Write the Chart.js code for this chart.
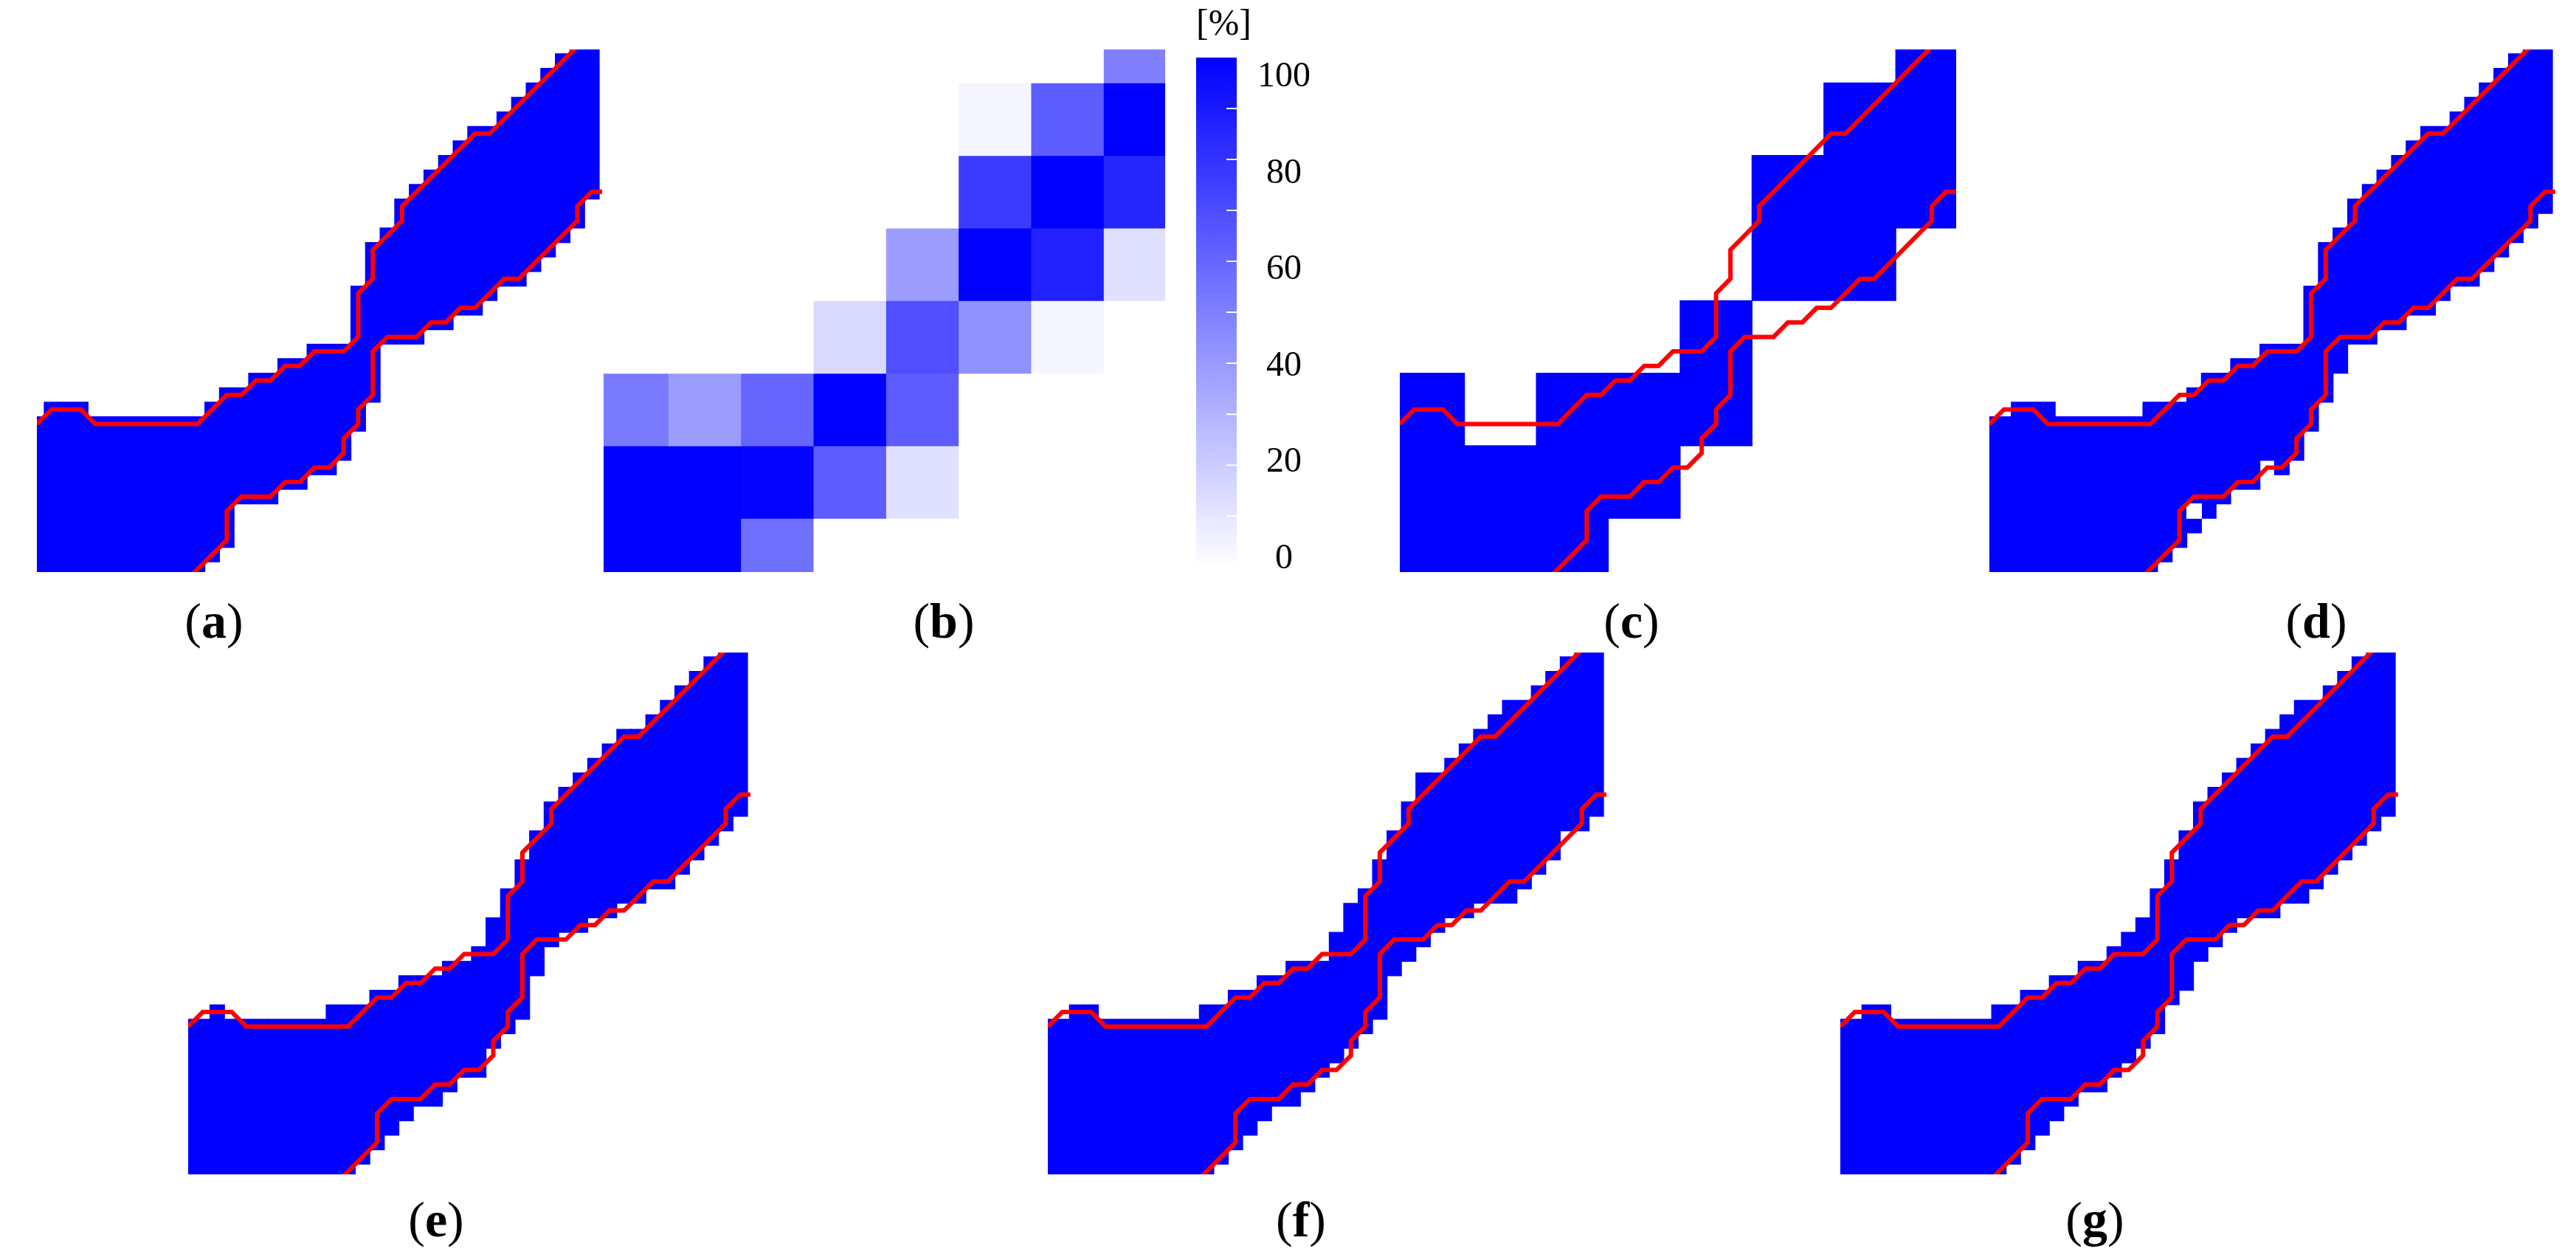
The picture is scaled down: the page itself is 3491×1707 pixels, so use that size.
<!DOCTYPE html>
<html>
<head>
<meta charset="utf-8">
<script src="https://cdn.jsdelivr.net/npm/chart.js@4.4.1/dist/chart.umd.min.js"></script>
<style>
  html, body { margin: 0; padding: 0; background: #fff; }
  #page { position: relative; width: 3491px; height: 1707px; background: #fff; overflow: hidden; }
  canvas { position: absolute; }
  .lbl { position: absolute; font-family: 'Liberation Serif', 'DejaVu Serif', serif; font-size: 68px; line-height: 68px; color: #000; transform: translate(-50%, -50%); white-space: nowrap; }
  .unit { position: absolute; font-family: 'Liberation Serif', 'DejaVu Serif', serif; font-size: 50px; line-height: 50px; color: #000; transform: translate(0, -50%); }
</style>
</head>
<body>
<div id="page"></div>
<script>
// grid units: x = cell column (left -> right), y = cell row (top -> bottom)
const viewX = [0.5, 39.2];
const viewY = [-0.3, 35.7];

// red reference boundaries (same in every mask panel)
const upperLine = [[0.5,25.5],[1.5,24.5],[3.5,24.5],[4.5,25.5],[11.5,25.5],[13.5,23.5],[14.5,23.5],[15.5,22.5],[16.5,22.5],[17.5,21.5],[18.5,21.5],[19.5,20.5],[21.5,20.5],[22.5,19.5],[22.5,16.5],[23.5,15.5],[23.5,13.5],[25.5,11.5],[25.5,10.5],[30.5,5.5],[31.5,5.5],[37.5,-0.5]];
const lowerLine = [[11,36],[13.5,33.5],[13.5,31.5],[14.5,30.5],[16.5,30.5],[17.5,29.5],[18.5,29.5],[19.5,28.5],[20.5,28.5],[21.5,27.5],[21.5,26.5],[22.5,25.5],[22.5,24.5],[23.5,23.5],[23.5,20.5],[24.5,19.5],[26.5,19.5],[27.5,18.5],[28.5,18.5],[29.5,17.5],[30.5,17.5],[32.5,15.5],[33.5,15.5],[37.5,11.5],[37.5,10.5],[38.5,9.5],[39.5,9.5]];

// blue masks: first and last blue row of each column 0..38
const topA = [25,24,24,24,25,25,25,25,25,25,25,25,24,23,23,22,22,21,21,20,20,20,16,13,12,10,9,8,7,6,5,5,4,3,2,1,0,-1,-1];
const botA = [35,35,35,35,35,35,35,35,35,35,35,35,34,33,30,30,30,29,29,28,28,27,25,23,19,19,19,18,18,17,17,16,15,15,14,13,12,11,9];
const topD = [25,25,24,24,24,25,25,25,25,25,25,24,24,24,23,22,22,21,21,20,20,20,16,13,12,10,9,8,7,6,5,5,4,3,2,1,0,-1,-1];
const botD = [35,35,35,35,35,35,35,35,35,35,35,35,34,33,32,31,30,29,29,27,28,27,25,23,21,19,19,18,18,17,17,16,15,15,14,13,12,11,10];
const holesD = [[14,31]];
const topE = [25,25,24,25,25,25,25,25,25,25,24,24,24,23,23,22,22,22,21,21,20,18,16,14,12,10,9,8,7,6,5,5,4,3,2,1,0,-1,-1];
const botE = [35,35,35,35,35,35,35,35,35,35,35,35,34,33,32,31,30,30,29,28,28,26,25,24,21,19,18,18,17,17,16,16,15,15,14,13,12,11,10];
const topF = [25,25,24,24,25,25,25,25,25,25,25,24,24,23,23,22,22,21,21,21,19,17,16,14,12,10,8,8,7,6,5,4,3,3,2,1,0,-1,-1];
const botF = [35,35,35,35,35,35,35,35,35,35,35,35,34,33,32,31,30,30,29,28,27,26,25,24,21,20,19,18,17,17,16,16,16,15,14,13,11,11,10];
const topG = [25,25,24,24,25,25,25,25,25,25,25,24,24,23,23,22,22,21,21,20,19,18,16,14,12,10,9,8,7,6,5,4,3,3,2,1,0,-1,-1];
const botG = [35,35,35,35,35,35,35,35,35,35,35,35,34,33,32,31,30,29,29,28,27,26,25,23,22,20,19,18,17,17,17,16,16,15,14,13,12,11,10];

// coarse 5x5 blocks
const coarseX = [2.5, 7.5, 12.5, 17.5, 22.5, 27.5, 32.5, 37.5];
const coarseRowTop = [-3, 2, 7, 12, 17, 22, 27, 32];
const heatValues = [
  [0, 0, 0, 0, 0, 0, 0, 50],
  [0, 0, 0, 0, 0, 4, 64, 100],
  [0, 0, 0, 0, 0, 77, 100, 85],
  [0, 0, 0, 0, 39, 100, 87, 12],
  [0, 0, 0, 15, 69, 43, 4, 0],
  [52, 39, 60, 100, 64, 0, 0, 0],
  [100, 100, 98, 64, 12, 0, 0, 0],
  [100, 100, 56, 0, 0, 0, 0, 0]
];
const coarseMaskC = [
  [0, 0, 0, 0, 0, 0, 0, 1],
  [0, 0, 0, 0, 0, 0, 1, 1],
  [0, 0, 0, 0, 0, 1, 1, 1],
  [0, 0, 0, 0, 0, 1, 1, 0],
  [0, 0, 0, 0, 1, 0, 0, 0],
  [1, 0, 1, 1, 1, 0, 0, 0],
  [1, 1, 1, 1, 0, 0, 0, 0],
  [1, 1, 1, 0, 0, 0, 0, 0]
];

const colorbarLabels = [0, 20, 40, 60, 80, 100];
const colorbarMinor = [10, 20, 30, 40, 50, 60, 70, 80, 90];

// page layout
const boxes = {
  a: [50, 67, 766, 708], b: [818, 67, 761, 708], c: [1897, 67, 754, 708], d: [2696, 67, 767, 708],
  e: [255, 884, 762, 707], f: [1420, 884, 757, 707], g: [2494, 884, 756, 707],
  bar: [1621, 0, 262, 825]
};
const labels = [
  ['a', 290, 841], ['b', 1279, 841], ['c', 2211, 841], ['d', 3139, 841],
  ['e', 591, 1652], ['f', 1763, 1652], ['g', 2839, 1652]
];

const BLUE = '#0000ff';
const RED = '#ff0000';
const SERIF = "'Liberation Serif', 'DejaVu Serif', serif";
const page = document.getElementById('page');

function addCanvas(box) {
  const cv = document.createElement('canvas');
  cv.width = box[2];
  cv.height = box[3];
  cv.style.left = box[0] + 'px';
  cv.style.top = box[1] + 'px';
  cv.style.width = box[2] + 'px';
  cv.style.height = box[3] + 'px';
  page.appendChild(cv);
  return cv;
}

function fixedTicks(values) {
  return s => { s.ticks = values.map(v => ({ value: v })); };
}

function baseOptions(xr, yr, reverse) {
  return {
    responsive: false,
    animation: false,
    events: [],
    layout: { padding: 0, autoPadding: false },
    plugins: { legend: { display: false }, tooltip: { enabled: false } },
    scales: {
      x: { type: 'linear', min: xr[0], max: xr[1], offset: false, display: false, afterBuildTicks: fixedTicks(xr) },
      y: { type: 'linear', min: yr[0], max: yr[1], reverse: reverse, display: false, afterBuildTicks: fixedTicks(yr) }
    }
  };
}

const cellBar = { type: 'bar', grouped: false, barPercentage: 1, categoryPercentage: 1, borderWidth: 0, inflateAmount: 0.6 };

function boundary(points) {
  return {
    type: 'line', order: 0,
    data: points.map(p => ({ x: p[0], y: p[1] })),
    borderColor: RED, borderWidth: 6, pointRadius: 0, tension: 0, fill: false
  };
}

function maskPanel(box, top, bottom, holes) {
  const datasets = [
    boundary(upperLine),
    boundary(lowerLine),
    Object.assign({}, cellBar, {
      order: 2,
      data: top.map((t, c) => ({ x: c + 0.5, y: [t, bottom[c] + 1] })),
      backgroundColor: BLUE
    })
  ];
  if (holes) {
    datasets.push(Object.assign({}, cellBar, {
      order: 1,
      data: holes.map(h => ({ x: h[0] + 0.5, y: [h[1], h[1] + 1] })),
      backgroundColor: '#ffffff'
    }));
  }
  new Chart(addCanvas(box), { type: 'bar', data: { datasets }, options: baseOptions(viewX, viewY, true) });
}

function shade(v) {
  const k = Math.round(255 * (1 - v / 100));
  return 'rgb(' + k + ',' + k + ',255)';
}

// (b) heat map of block scores
new Chart(addCanvas(boxes.b), {
  type: 'bar',
  data: {
    datasets: heatValues.map((row, r) => Object.assign({}, cellBar, {
      data: row.map((v, c) => ({ x: coarseX[c], y: [coarseRowTop[r], coarseRowTop[r] + 5] })),
      backgroundColor: row.map(shade)
    }))
  },
  options: baseOptions(viewX, viewY, true)
});

// (c) thresholded blocks
new Chart(addCanvas(boxes.c), {
  type: 'bar',
  data: {
    datasets: [boundary(upperLine), boundary(lowerLine)].concat(coarseMaskC.map((row, r) => Object.assign({}, cellBar, {
      order: 2,
      data: row.map((v, c) => ({ x: coarseX[c], y: [coarseRowTop[r], coarseRowTop[r] + 5] })),
      backgroundColor: row.map(v => v ? BLUE : 'rgba(255,255,255,0)')
    })))
  },
  options: baseOptions(viewX, viewY, true)
});

maskPanel(boxes.a, topA, botA);
maskPanel(boxes.d, topD, botD, holesD);
maskPanel(boxes.e, topE, botE);
maskPanel(boxes.f, topF, botF);
maskPanel(boxes.g, topG, botG);

// colour bar: gradient strip, white minor marks, tick labels on the right
// (the label axis reserves half a label + padding below the strip, so the canvas runs past 768)
const barOpts = baseOptions([0, 1], [0, 100], false);
barOpts.layout = { padding: { top: 78, bottom: 0, left: 0, right: 0 }, autoPadding: false };
barOpts.scales.yLab = {
  type: 'linear', position: 'right', min: -1.7, max: 104.1,
  grid: { display: false, drawTicks: false },
  border: { display: false },
  afterBuildTicks: fixedTicks(colorbarLabels),
  afterFit: s => { s.width = 207; },
  ticks: {
    autoSkip: false, padding: 28, crossAlign: 'center', color: '#000',
    font: { family: SERIF, size: 48, lineHeight: 1.2 },
    callback: v => String(v)
  }
};
new Chart(addCanvas(boxes.bar), {
  type: 'bar',
  data: {
    datasets: [
      {
        type: 'line', order: 0, showLine: false,
        data: colorbarMinor.map(v => ({ x: 1, y: v })),
        pointStyle: 'line', pointRadius: 14, pointBorderColor: '#ffffff', pointBorderWidth: 2
      },
      Object.assign({}, cellBar, {
        order: 1,
        data: [{ x: 0.5, y: [0, 100] }],
        backgroundColor: (ctx) => {
          const area = ctx.chart.chartArea;
          if (!area) return BLUE;
          const g = ctx.chart.ctx.createLinearGradient(0, area.bottom, 0, area.top);
          g.addColorStop(0, '#ffffff');
          g.addColorStop(1, BLUE);
          return g;
        }
      })
    ]
  },
  options: barOpts
});

// text
const unit = document.createElement('div');
unit.className = 'unit';
unit.style.left = '1621px';
unit.style.top = '30px';
unit.textContent = '[%]';
page.appendChild(unit);

labels.forEach(([k, x, y]) => {
  const d = document.createElement('div');
  d.className = 'lbl';
  d.style.left = x + 'px';
  d.style.top = y + 'px';
  d.innerHTML = '(<b>' + k + '</b>)';
  page.appendChild(d);
});
</script>
</body>
</html>
